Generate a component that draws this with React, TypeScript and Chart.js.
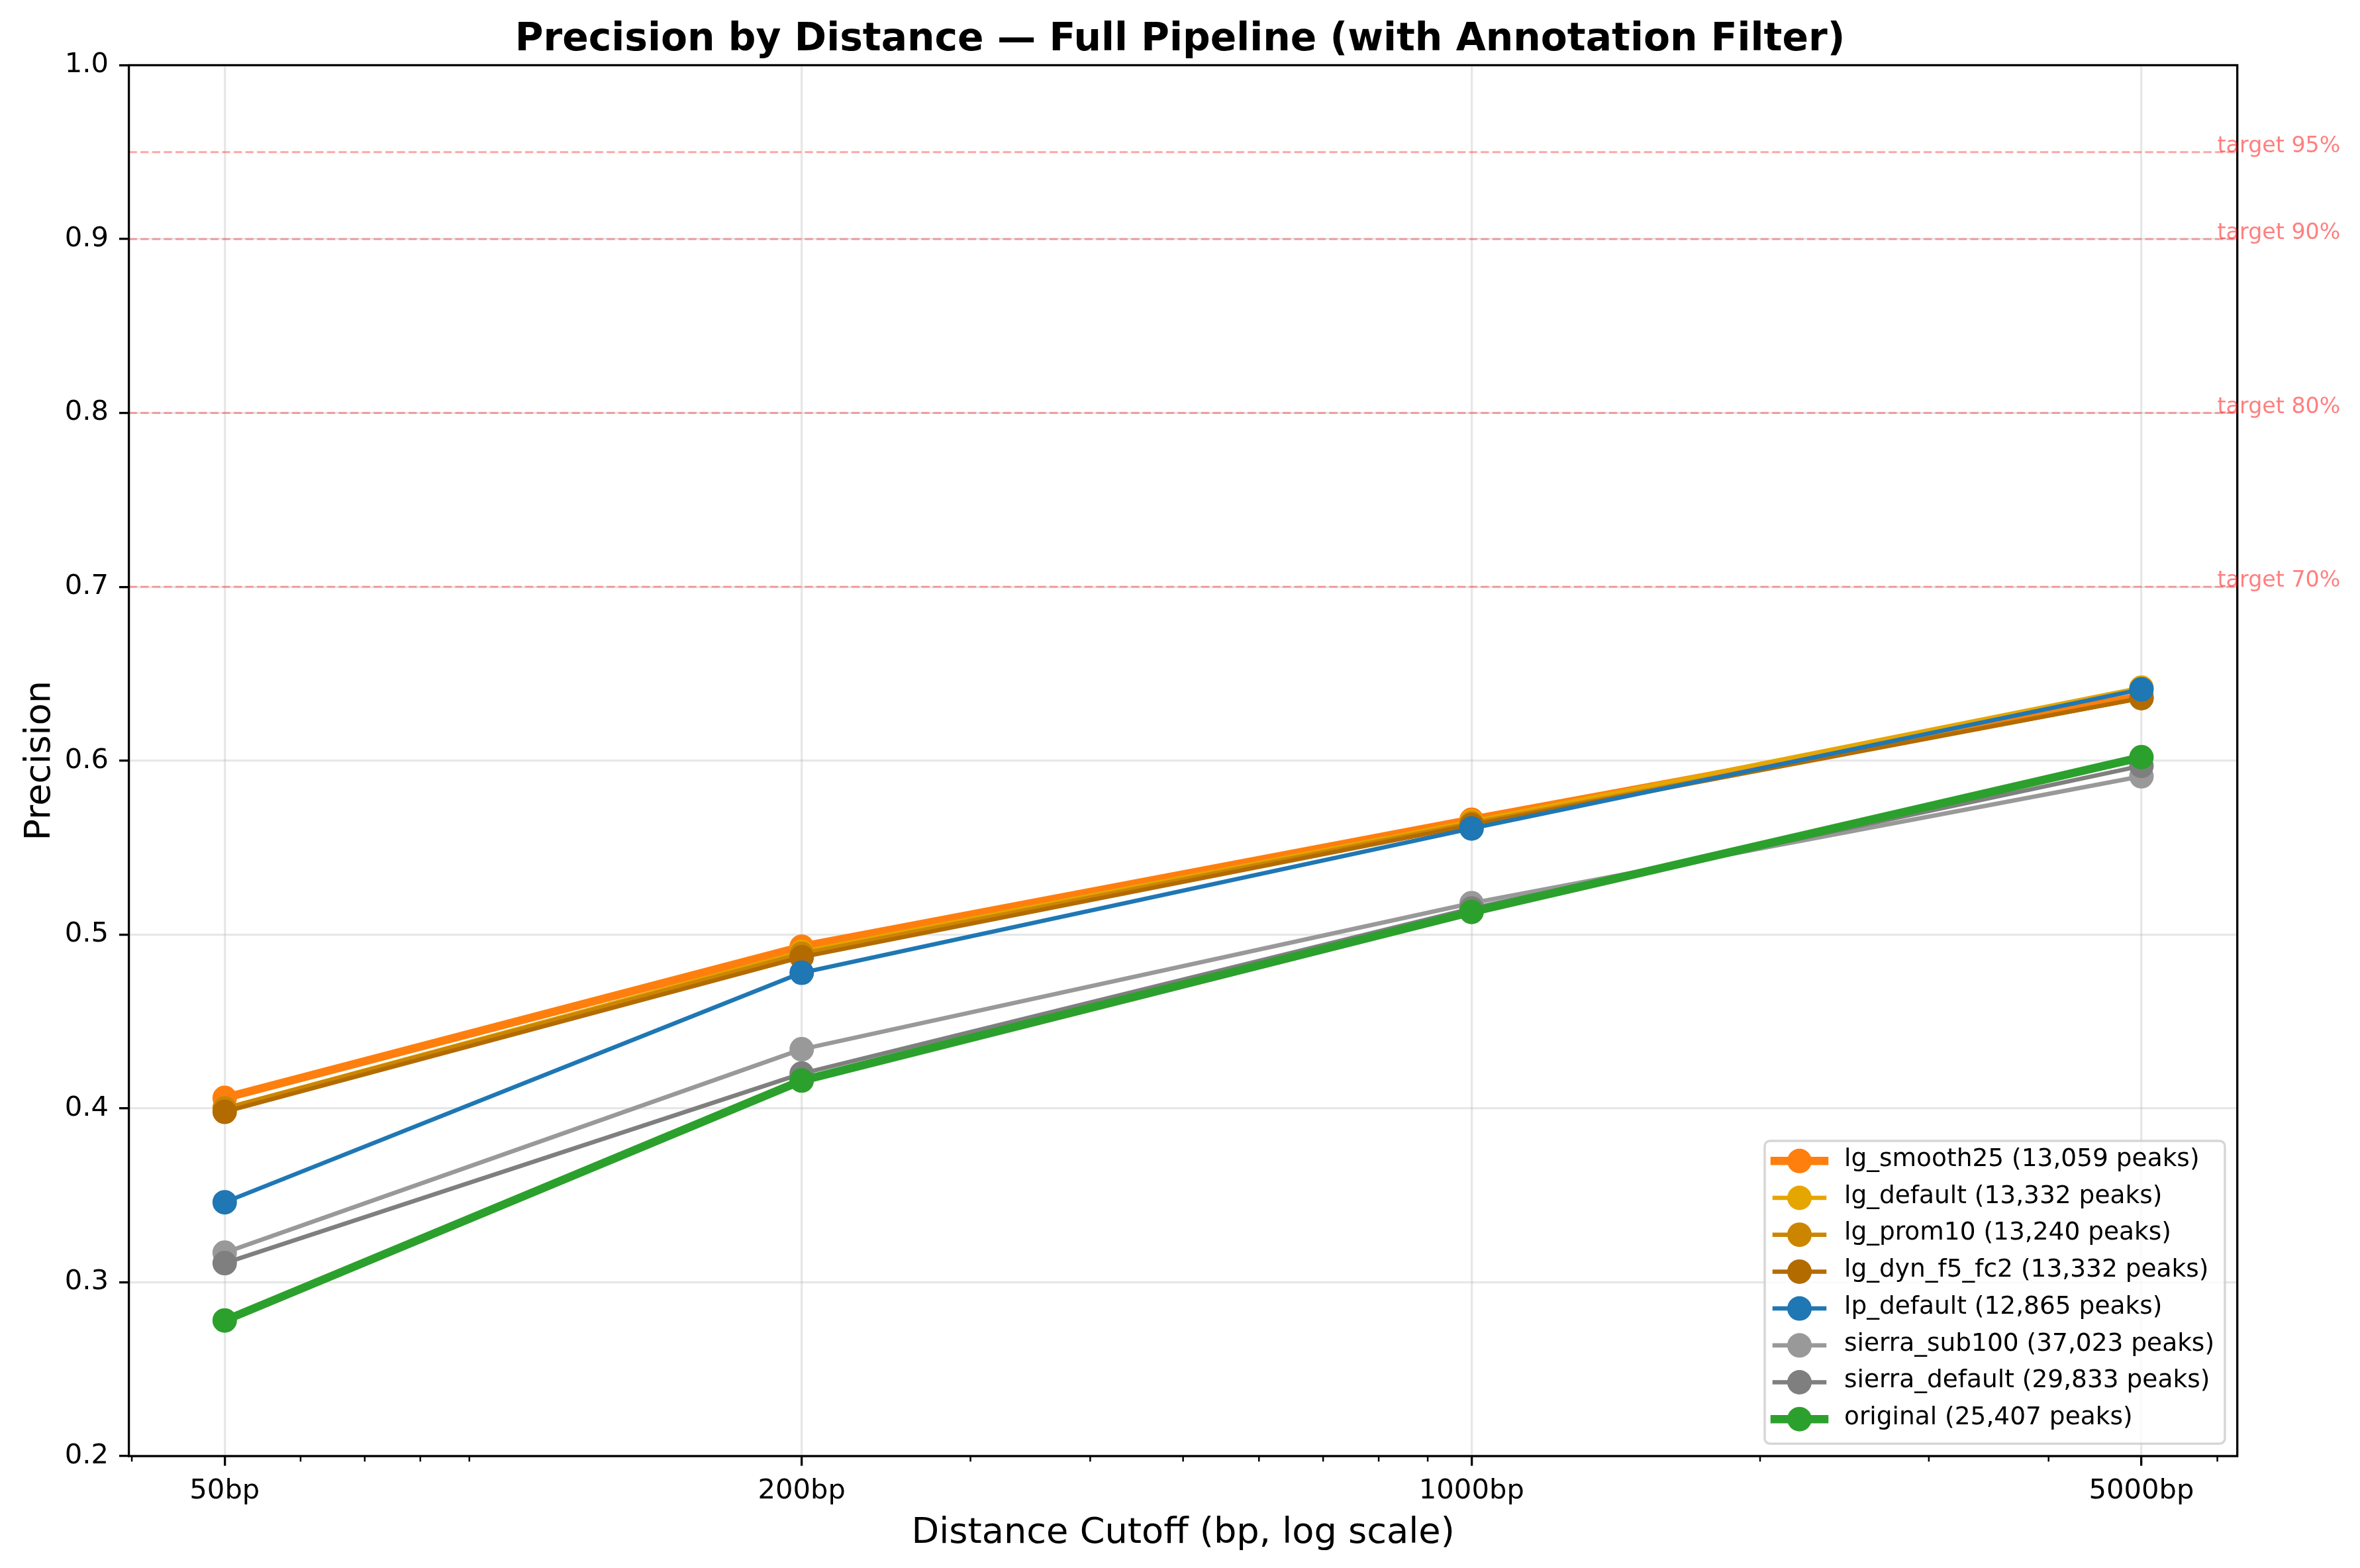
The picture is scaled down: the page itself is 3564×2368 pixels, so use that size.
import React, { useEffect, useRef } from "react";
import { Chart, registerables } from "chart.js";

Chart.register(...registerables);

const W = 3564;
const H = 2368;
const FONT = "'DejaVu Sans', 'Liberation Sans', sans-serif";

// ---- data ----
const distanceCutoffs = [50, 200, 1000, 5000];
const xTickValues = [50, 200, 1000, 5000];
const xMinorTickValues = [40, 60, 70, 80, 90, 300, 400, 500, 600, 700, 800, 900, 2000, 3000, 4000, 6000];
const yTickValues = [0.2, 0.3, 0.4, 0.5, 0.6, 0.7, 0.8, 0.9, 1.0];

const seriesLabels = [
  "lg_smooth25 (13,059 peaks)",
  "lg_default (13,332 peaks)",
  "lg_prom10 (13,240 peaks)",
  "lg_dyn_f5_fc2 (13,332 peaks)",
  "lp_default (12,865 peaks)",
  "sierra_sub100 (37,023 peaks)",
  "sierra_default (29,833 peaks)",
  "original (25,407 peaks)",
];
const lgSmooth25 = [0.406, 0.493, 0.566, 0.637];
const lgDefault = [0.4, 0.49, 0.565, 0.642];
const lgProm10 = [0.4, 0.489, 0.564, 0.636];
const lgDynF5Fc2 = [0.398, 0.487, 0.563, 0.636];
const lpDefault = [0.346, 0.478, 0.561, 0.641];
const sierraSub100 = [0.317, 0.434, 0.518, 0.591];
const sierraDefault = [0.311, 0.42, 0.515, 0.597];
const original = [0.278, 0.416, 0.513, 0.602];
const seriesValues = [lgSmooth25, lgDefault, lgProm10, lgDynF5Fc2, lpDefault, sierraSub100, sierraDefault, original];

const seriesColors = ["#ff7f0e", "#e6a600", "#cc8500", "#b36b00", "#1f77b4", "#999999", "#7f7f7f", "#2ca02c"];
const seriesLineWidths = [12.5, 6.5, 6.5, 6.5, 6.5, 6.5, 6.5, 12.5];

const targetLevels = [0.95, 0.9, 0.8, 0.7];
const targetLabels = ["target 95%", "target 90%", "target 80%", "target 70%"];
const targetLabelX = 6000;

const titleText = "Precision by Distance \u2014 Full Pipeline (with Annotation Filter)";
const xTitle = "Distance Cutoff (bp, log scale)";
const yTitle = "Precision";

// axis limits (matplotlib-style 0.1-decade margins on log axis)
const xMin = 50 / Math.pow(10, 0.1);
const xMax = 5000 * Math.pow(10, 0.1);

const decorPlugin = {
  id: "decor",
  beforeDatasetsDraw(chart: any) {
    const { ctx, chartArea } = chart;
    const ys = chart.scales.y;
    ctx.save();
    ctx.strokeStyle = "rgba(255,0,0,0.35)";
    ctx.lineWidth = 2.8;
    ctx.setLineDash([12.3, 5.3]);
    targetLevels.forEach((v) => {
      const py = ys.getPixelForValue(v);
      ctx.beginPath();
      ctx.moveTo(chartArea.left, py);
      ctx.lineTo(chartArea.right, py);
      ctx.stroke();
    });
    ctx.restore();
  },
  afterDatasetsDraw(chart: any) {
    const { ctx, chartArea } = chart;
    const xs = chart.scales.x;
    ctx.save();
    // minor ticks
    ctx.strokeStyle = "#000";
    ctx.lineWidth = 2.5;
    xMinorTickValues.forEach((v) => {
      const px = xs.getPixelForValue(v);
      ctx.beginPath();
      ctx.moveTo(px, chartArea.bottom);
      ctx.lineTo(px, chartArea.bottom + 8.3);
      ctx.stroke();
    });
    // spines
    ctx.lineWidth = 3.3;
    ctx.strokeStyle = "#000";
    ctx.strokeRect(chartArea.left, chartArea.top, chartArea.right - chartArea.left, chartArea.bottom - chartArea.top);
    ctx.restore();
  },
  afterDraw(chart: any) {
    const { ctx } = chart;
    const xs = chart.scales.x;
    const ys = chart.scales.y;
    ctx.save();
    // target labels
    ctx.fillStyle = "rgba(255,0,0,0.5)";
    ctx.font = `33.3px ${FONT}`;
    ctx.textAlign = "left";
    ctx.textBaseline = "alphabetic";
    const tx = xs.getPixelForValue(targetLabelX);
    targetLevels.forEach((v, i) => {
      ctx.fillText(targetLabels[i], tx, ys.getPixelForValue(v));
    });

    // legend
    const right = chart.chartArea.right - 18.75;
    const bottom = chart.chartArea.bottom - 18.75;
    const left = 2665;
    const top = 1723;
    ctx.beginPath();
    (ctx as any).roundRect(left, top, right - left, bottom - top, 8);
    ctx.fillStyle = "rgba(255,255,255,0.8)";
    ctx.fill();
    ctx.strokeStyle = "rgba(204,204,204,0.8)";
    ctx.lineWidth = 3.5;
    ctx.stroke();

    const ds = chart.data.datasets;
    const rowStart = 1753.3;
    const rowStep = 55.7;
    const lx0 = 2680;
    const lx1 = 2755;
    const mx = (lx0 + lx1) / 2;
    const textX = 2785;
    ctx.font = `37.5px ${FONT}`;
    ds.forEach((d: any, i: number) => {
      const ry = rowStart + i * rowStep;
      ctx.strokeStyle = d.borderColor;
      ctx.lineWidth = d.borderWidth;
      ctx.lineCap = "square";
      ctx.beginPath();
      ctx.moveTo(lx0, ry);
      ctx.lineTo(lx1, ry);
      ctx.stroke();
      ctx.fillStyle = d.borderColor;
      ctx.beginPath();
      ctx.arc(mx, ry, 18.5, 0, Math.PI * 2);
      ctx.fill();
      ctx.fillStyle = "#000";
      ctx.textBaseline = "middle";
      ctx.fillText(d.label, textX, ry - 2);
    });
    ctx.restore();
  },
};

export default function App() {
  const ref = useRef<HTMLCanvasElement>(null);

  useEffect(() => {
    const canvas = ref.current;
    if (!canvas) return;

    const datasets = seriesLabels.map((label, i) => ({
      label,
      data: distanceCutoffs.map((d, j) => ({ x: d, y: seriesValues[i][j] })),
      borderColor: seriesColors[i],
      backgroundColor: seriesColors[i],
      borderWidth: seriesLineWidths[i],
      pointRadius: 17.5,
      pointBorderWidth: 2,
      pointBackgroundColor: seriesColors[i],
      pointBorderColor: seriesColors[i],
      pointHoverRadius: 17.5,
      tension: 0,
      fill: false,
      borderJoinStyle: "round" as const,
      borderCapStyle: "square" as const,
      order: seriesLabels.length - 1 - i,
    }));

    const chart = new Chart(canvas, {
      type: "line",
      data: { datasets },
      options: {
        responsive: false,
        maintainAspectRatio: false,
        devicePixelRatio: 1,
        animation: false,
        events: [],
        layout: { padding: 0 },
        plugins: {
          legend: { display: false },
          tooltip: { enabled: false },
          title: {
            display: true,
            text: titleText,
            color: "#000",
            font: { family: FONT, size: 58.3, weight: "bold" },
            padding: { top: 25.8, bottom: 2.7 },
          },
        },
        scales: {
          x: {
            type: "logarithmic",
            position: "bottom",
            min: xMin,
            max: xMax,
            afterBuildTicks: (scale: any) => {
              scale.ticks = xTickValues.map((v) => ({ value: v, major: true }));
            },
            afterFit: (scale: any) => {
              scale.height = 169;
            },
            ticks: {
              autoSkip: false,
              maxRotation: 0,
              color: "#000",
              padding: 14,
              font: { family: FONT, size: 41.7 },
              callback: (v: any) => `${v}bp`,
            },
            grid: {
              color: "rgba(176,176,176,0.3)",
              lineWidth: 3.3,
              drawTicks: true,
              tickLength: 14.6,
              tickColor: "#000",
              tickWidth: 3.3,
            },
            border: { display: false },
            title: {
              display: true,
              text: xTitle,
              color: "#000",
              font: { family: FONT, size: 54.2 },
              padding: { top: 0, bottom: 20 },
            },
          },
          y: {
            type: "linear",
            position: "left",
            min: 0.2,
            max: 1.0,
            afterBuildTicks: (scale: any) => {
              scale.ticks = yTickValues.map((v) => ({ value: v }));
            },
            afterFit: (scale: any) => {
              scale.width = 194.6;
            },
            ticks: {
              color: "#000",
              padding: 16,
              font: { family: FONT, size: 41.7 },
              callback: (v: any) => Number(v).toFixed(1),
            },
            grid: {
              color: "rgba(176,176,176,0.3)",
              lineWidth: 3.3,
              drawTicks: true,
              tickLength: 14.6,
              tickColor: "#000",
              tickWidth: 3.3,
            },
            border: { display: false },
            title: {
              display: true,
              text: yTitle,
              color: "#000",
              font: { family: FONT, size: 54.2 },
              padding: { top: 28, bottom: 0 },
            },
          },
          y2: {
            type: "linear",
            position: "right",
            display: true,
            afterFit: (scale: any) => {
              scale.width = 185.3;
            },
            ticks: { display: false },
            grid: { display: false, drawTicks: false },
            border: { display: false },
          },
        },
      },
      plugins: [decorPlugin],
    } as any);

    return () => chart.destroy();
  }, []);

  return (
    <div style={{ position: "fixed", left: 0, top: 0, width: W, height: H, background: "#fff" }}>
      <canvas ref={ref} width={W} height={H} style={{ width: W, height: H, display: "block" }} />
    </div>
  );
}
